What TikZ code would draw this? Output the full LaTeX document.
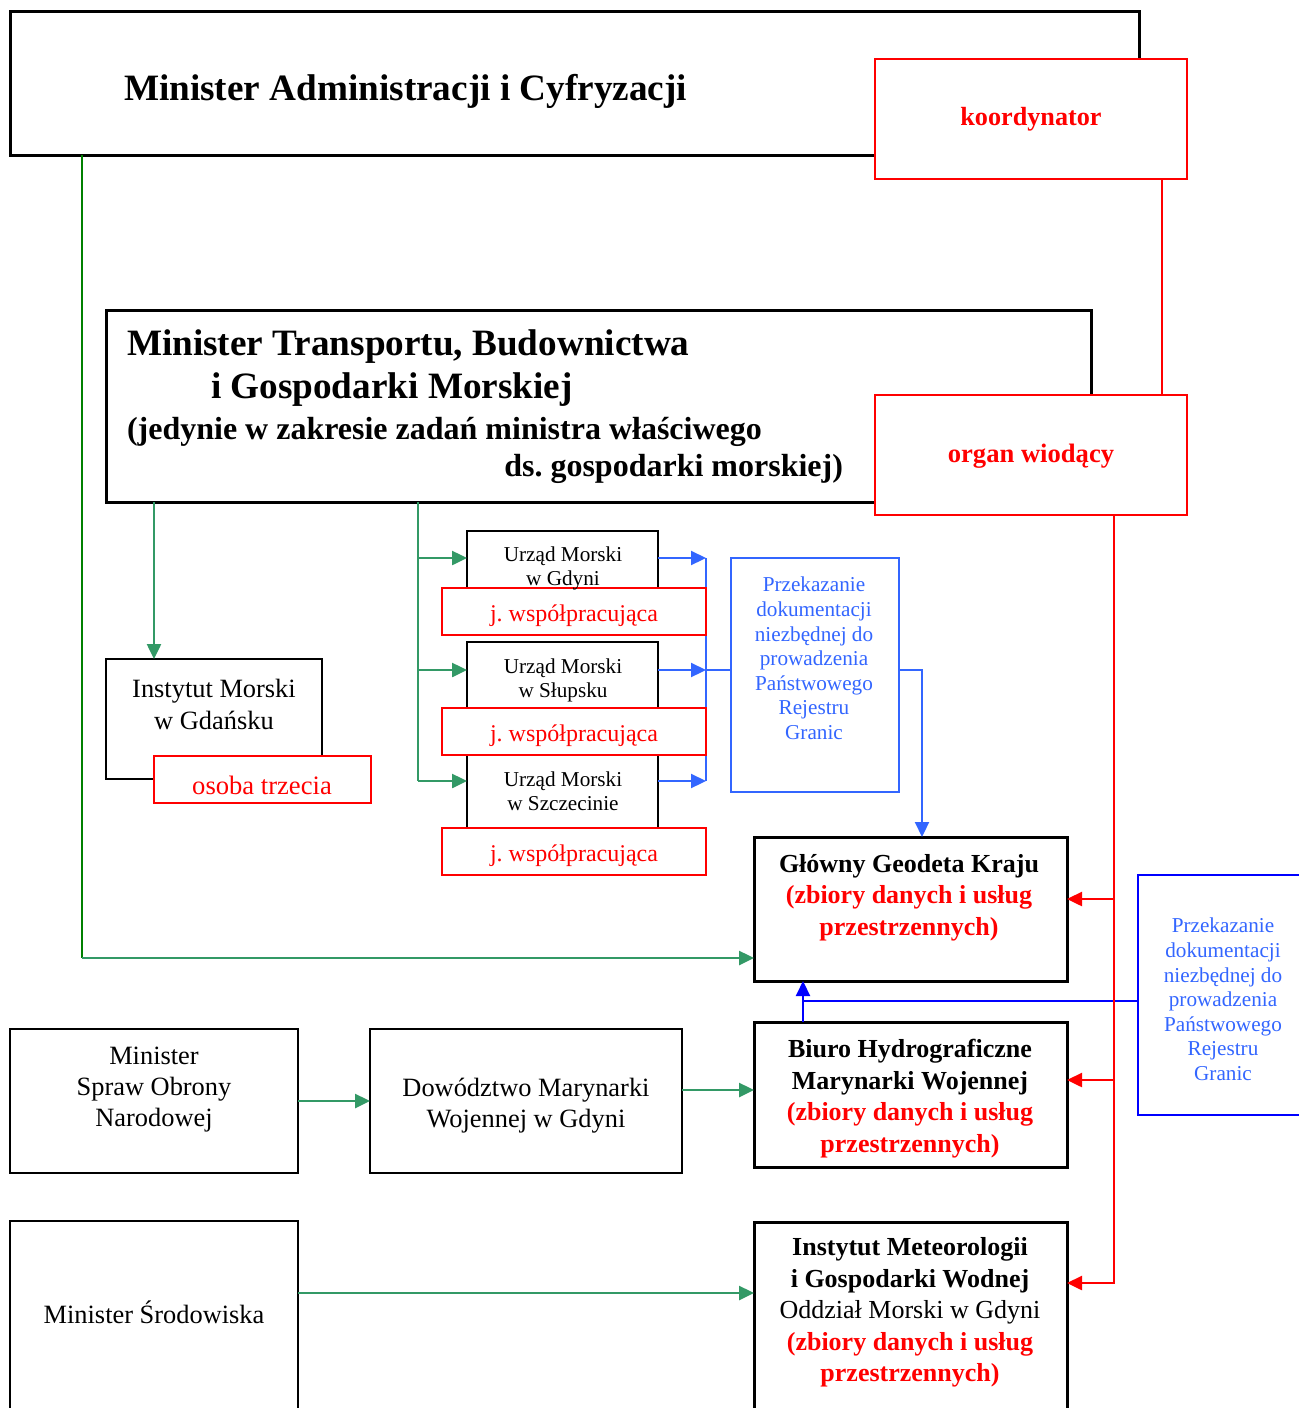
\documentclass[tikz,border=0pt]{standalone}
\usepackage{fontspec}
\setmainfont{Liberation Serif}
\usetikzlibrary{arrows.meta}
\definecolor{rd}{RGB}{255,0,0}
\definecolor{gr}{RGB}{51,153,102}
\definecolor{dg}{RGB}{0,128,0}
\definecolor{bl}{RGB}{51,102,255}
\definecolor{bb}{RGB}{0,0,255}
\newcommand\fsz[2]{\fontsize{#1}{#2}\selectfont}
\newcommand\pbox[6]{\node[#2, minimum width={(#5-#3)*0.5pt}, minimum height={(#6-#4)*0.5pt}] (#1) at ({(#3+#5)/2},{(#4+#6)/2}) {};}
\frenchspacing
\begin{document}
\frenchspacing
\begin{tikzpicture}[x=0.5pt,y=-0.5pt,
  every node/.style={inner sep=0pt, outer sep=0pt},
  tx/.style={yshift=-1.25pt},
  thickbox/.style={draw=black, line width=1.5pt, fill=white, rectangle},
  thinbox/.style={draw=black, line width=1pt, fill=white, rectangle},
  redbox/.style={draw=rd, line width=1.3pt, fill=white, rectangle},
  bluebox/.style={draw=bl, line width=1pt, fill=white, rectangle},
  blueboxb/.style={draw=bb, line width=1.1pt, fill=white, rectangle},
  arr/.style={-{Triangle[length=7.5pt,width=7pt]}},
  gln/.style={draw=gr, line width=1.25pt},
  dgln/.style={draw=dg, line width=1pt},
  rln/.style={draw=rd, line width=1.25pt},
  bln/.style={draw=bl, line width=1.1pt},
  bbln/.style={draw=bb, line width=1.1pt},
  bigb/.style={tx, font=\fsz{18.6}{22}\bfseries},
  midb/.style={tx, font=\fsz{16}{19}\bfseries},
  nodeb/.style={tx, font=\fsz{13}{15.8}\bfseries, align=center},
  nodet/.style={tx, font=\fsz{13.2}{15.7}, align=center},
  smallt/.style={tx, font=\fsz{10.6}{12}, align=center},
  przt/.style={tx, font=\fsz{10.6}{12.3}, align=center, text=bl},
  redt/.style={tx, font=\fsz{12}{14}, text=rd},
]
\useasboundingbox (0,0) rectangle (1298,1408);
\fill[white] (0,0) rectangle (1298,1408);

% main boxes
\pbox{A}{thickbox}{10}{11}{1139}{155}
\pbox{B}{thickbox}{106}{310}{1091}{502}
\pbox{IM}{thinbox}{106}{659}{322}{779}
\pbox{U1}{thinbox}{467}{531}{658}{600}
\pbox{U2}{thinbox}{467}{642}{658}{720}
\pbox{U3}{thinbox}{467}{748}{658}{828}
\pbox{P1}{bluebox}{731}{558}{899}{792}
\pbox{GGK}{thickbox}{754}{837}{1067}{981}
\pbox{BH}{thickbox}{754}{1022}{1067}{1167}
\pbox{IMGW}{thickbox}{754}{1222}{1067}{1450}
\pbox{MON}{thinbox}{10}{1029}{298}{1173}
\pbox{DOW}{thinbox}{370}{1029}{682}{1173}
\pbox{MS}{thinbox}{10}{1221}{298}{1450}
\pbox{P2}{blueboxb}{1138}{875}{1340}{1115}

% connectors
\coordinate (cA) at (82,958);
\draw[dgln] (82,0 |- A.south) -- (cA);
\draw[gln,arr] (cA) -- (GGK.west |- cA);
\draw[gln,arr] (154,0 |- B.south) -- (154,0 |- IM.north);
\coordinate (cU) at (418,781);
\draw[gln] (418,0 |- B.south) -- (cU);
\draw[gln,arr] (418,558) -- (U1.west |- 0,558);
\draw[gln,arr] (418,670) -- (U2.west |- 0,670);
\draw[gln,arr] (cU) -- (U3.west |- cU);

\coordinate (cB1) at (706,558);
\coordinate (cB2) at (706,670);
\coordinate (cB3) at (706,781);
\draw[bln] (cB1) -- (cB3);
\draw[bln,arr] (U1.east |- cB1) -- (cB1);
\draw[bln,arr] (U2.east |- cB2) -- (cB2);
\draw[bln,arr] (U3.east |- cB3) -- (cB3);
\draw[bln] (cB2) -- (P1.west |- cB2);
\draw[bln,arr] (P1.east |- 0,670) -- (922,670) -- (922,0 |- GGK.north);

\draw[bbln] (P2.west |- 0,1001) -- (803,1001);
\draw[bbln,arr] (803,0 |- BH.north) -- (803,0 |- GGK.south);

\draw[gln,arr] (MON.east |- 0,1101) -- (DOW.west |- 0,1101);
\draw[gln,arr] (DOW.east |- 0,1090) -- (BH.west |- 0,1090);
\draw[gln,arr] (MS.east |- 0,1293) -- (IMGW.west |- 0,1293);

% red overlay boxes
\pbox{K}{redbox}{875}{59}{1187}{179}
\pbox{O}{redbox}{875}{395}{1187}{515}
\pbox{OT}{redbox}{154}{756}{371}{803}
\pbox{J1}{redbox}{442}{588}{706}{635}
\pbox{J2}{redbox}{442}{708}{706}{755}
\pbox{J3}{redbox}{442}{828}{706}{875}

\draw[rln] (1162,0 |- K.south) -- (1162,0 |- O.north);
\draw[rln,arr] (1114,0 |- O.south) -- (1114,1283) -- (IMGW.east |- 0,1283);
\draw[rln,arr] (1114,899) -- (GGK.east |- 0,899);
\draw[rln,arr] (1114,1080) -- (BH.east |- 0,1080);

% texts
\node[bigb, anchor=west] (tA) at (124,89) {Minister Administracji i Cyfryzacji};
\node[tx, font=\fsz{13.1}{15}\bfseries, text=rd] (tK) at (1031,117) {koordynator};
\node[tx, font=\fsz{13.3}{15}\bfseries, text=rd] (tO) at (1031,454) {organ wiodący};
\node[bigb, anchor=west] (tB1) at (127,344) {Minister Transportu, Budownictwa};
\node[bigb, anchor=west] (tB2) at (211,387) {i Gospodarki Morskiej};
\node[midb, anchor=west] (tB3) at (127,429) {(jedynie w zakresie zadań ministra właściwego};
\node[midb, anchor=east] (tB4) at (843,466) {ds. gospodarki morskiej)};

\node[nodet] (tIM) at (214,702) {Instytut Morski\\w Gdańsku};
\node[tx, font=\fsz{13.3}{15}, text=rd] (tOT) at (262,783) {osoba trzecia};

\node[smallt] (tU1) at (563,566) {Urząd Morski\\w Gdyni};
\node[smallt] (tU2) at (563,678) {Urząd Morski\\w Słupsku};
\node[smallt] (tU3) at (563,789) {Urząd Morski\\w Szczecinie};
\node[redt] (tJ1) at (574,613) {j. współpracująca};
\node[redt] (tJ2) at (574,733) {j. współpracująca};
\node[redt] (tJ3) at (574,853) {j. współpracująca};

\node[przt] (tP1) at (814,656) {Przekazanie\\dokumentacji\\niezbędnej do\\prowadzenia\\Państwowego\\Rejestru\\Granic};
\node[przt] (tP2) at (1223,997) {Przekazanie\\dokumentacji\\niezbędnej do\\prowadzenia\\Państwowego\\Rejestru\\Granic};

\node[nodeb] (tG) at (909,895) {Główny Geodeta Kraju\\\textcolor{rd}{(zbiory danych i usług}\\\textcolor{rd}{przestrzennych)}};
\node[nodeb] (tBH) at (910,1096) {Biuro Hydrograficzne\\Marynarki Wojennej\\\textcolor{rd}{(zbiory danych i usług}\\\textcolor{rd}{przestrzennych)}};
\node[nodeb] (tIMGW) at (910,1310) {Instytut Meteorologii\\i Gospodarki Wodnej\\{\mdseries Oddział Morski w Gdyni}\\\textcolor{rd}{(zbiory danych i usług}\\\textcolor{rd}{przestrzennych)}};

\node[nodet] (tMON) at (154,1087) {Minister\\Spraw Obrony\\Narodowej};
\node[nodet] (tDOW) at (526,1103) {Dowództwo Marynarki\\Wojennej w Gdyni};
\node[nodet] (tMS) at (154,1310) {Minister Środowiska};
\end{tikzpicture}
\end{document}
